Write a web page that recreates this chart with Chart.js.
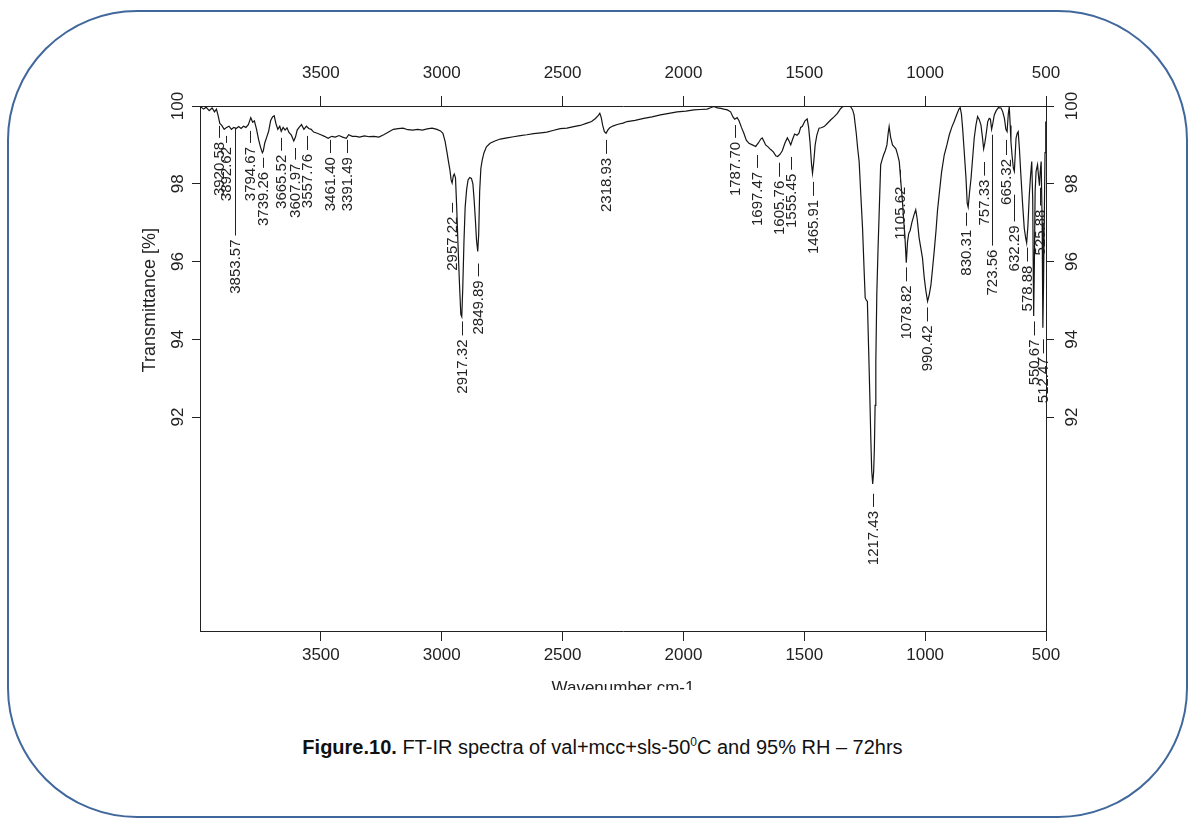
<!DOCTYPE html>
<html lang="en">
<head>
    <meta charset="UTF-8" />
    <title>FT-IR spectrum</title>
    <script src="https://cdn.jsdelivr.net/npm/chart.js"></script>
    <style>
        * {
            box-sizing: border-box;
            margin: 0; padding: 0;
        }
        body {
            background: #fff;
            width: 1191px;
            height: 818px;
            overflow: hidden;
            position: relative;
            font-family: 'Liberation Sans', Arial, sans-serif;
        }

        /* rounded frame around the figure */
        .frame {
            position: absolute;
            left: 7px; top: 10px;
            width: 1181px; height: 808px;
            border: 2px solid #41689c;
            border-radius: 130px;
        }

        /* the plot image is cut just under the axis title */
        .plot {
            position: absolute;
            left: 0; top: 0;
            width: 1191px; height: 690px;
            overflow: hidden;
        }

        .caption {
            position: absolute;
            left: 0; top: 735px;
            width: 1205px;
            text-align: center;
            font-size: 20px;
            color: #111;
        }
        .caption sup { font-size: 12px; }
    </style>
</head>
<body>

    <div class="frame"></div>

    <div class="plot">
        <canvas id="spectrum" width="1191" height="720"></canvas>
    </div>

    <div class="caption"><b>Figure.10.</b> FT-IR spectra of val+mcc+sls-50<sup>0</sup>C and 95% RH &ndash; 72hrs</div>

    <script>
        const xTicks = [3500, 3000, 2500, 2000, 1500, 1000, 500];
        const yTicks = [92, 94, 96, 98, 100];

        // spectrum (cm-1 / %T)
        const wavenumber = [
            3998, 3985, 3975, 3962, 3950, 3940, 3932, 3925, 3918, 3910,
            3900, 3890, 3880, 3870, 3860, 3850, 3840, 3830, 3820, 3810,
            3800, 3790, 3782, 3775, 3766, 3758, 3750, 3742, 3738, 3732,
            3724, 3716, 3708, 3700, 3693, 3686, 3678, 3670, 3664, 3656,
            3648, 3640, 3632, 3622, 3612, 3605, 3598, 3590, 3580, 3570,
            3560, 3550, 3540, 3530, 3515, 3500, 3485, 3470, 3455, 3440,
            3425, 3410, 3395, 3385, 3370, 3355, 3340, 3320, 3300, 3280,
            3260, 3240, 3220, 3200, 3180, 3160, 3140, 3120, 3100, 3080,
            3060, 3040, 3020, 3005, 2995, 2986, 2978, 2972, 2966, 2961,
            2957, 2952, 2948, 2943, 2938, 2933, 2927, 2921, 2917, 2913,
            2908, 2903, 2897, 2891, 2884, 2877, 2871, 2866, 2861, 2856,
            2851, 2847, 2843, 2838, 2832, 2825, 2815, 2800, 2780, 2758,
            2730, 2703, 2675, 2648, 2620, 2590, 2565, 2540, 2510, 2482,
            2454, 2427, 2399, 2380, 2364, 2352, 2346, 2340, 2334, 2327,
            2320, 2313, 2305, 2290, 2270, 2250, 2233, 2200, 2164, 2130,
            2095, 2060, 2026, 1990, 1957, 1930, 1902, 1885, 1874, 1860,
            1845, 1833, 1818, 1805, 1795, 1788, 1778, 1770, 1760, 1750,
            1740, 1729, 1715, 1701, 1690, 1680, 1674, 1666, 1660, 1650,
            1639, 1628, 1618, 1610, 1600, 1591, 1580, 1570, 1563, 1556,
            1548, 1540, 1530, 1522, 1515, 1508, 1497, 1488, 1482, 1476,
            1470, 1466, 1461, 1455, 1448, 1439, 1430, 1418, 1405, 1391,
            1377, 1363, 1350, 1342, 1325, 1308, 1300, 1294, 1285, 1279,
            1273, 1266, 1259, 1252, 1248, 1243, 1239, 1234, 1229, 1225,
            1221, 1217, 1213, 1210, 1207, 1204, 1200, 1195, 1190, 1184,
            1178, 1172, 1165, 1158, 1153, 1149, 1143, 1135, 1128, 1121,
            1114, 1107, 1100, 1094, 1088, 1084, 1078, 1073, 1068, 1062,
            1055, 1046, 1039, 1033, 1025, 1018, 1011, 1004, 997, 990,
            983, 976, 969, 962, 955, 949, 942, 932, 921, 910,
            900, 890, 880, 868, 860, 855, 850, 845, 838, 831,
            826, 822, 816, 810, 803, 797, 790, 783, 776, 769,
            763, 758, 753, 748, 741, 735, 730, 725, 720, 714,
            706, 697, 686, 679, 672, 666, 661, 656, 652, 648,
            645, 640, 635, 631, 627, 624, 619, 615, 610, 604,
            597, 590, 584, 580, 575, 569, 564, 559, 555, 551,
            548, 545, 541, 535, 531, 527, 524, 520, 516, 513,
            510, 507, 504, 501
        ];
        const transmittance = [
            99.98, 99.92, 99.97, 99.88, 99.95, 99.85, 99.92, 99.75, 99.55, 99.50,
            99.40, 99.45, 99.48, 99.40, 99.45, 99.42, 99.47, 99.42, 99.48, 99.45,
            99.52, 99.70, 99.58, 99.62, 99.40, 99.15, 98.95, 98.80, 98.85, 99.05,
            99.20, 99.35, 99.62, 99.72, 99.75, 99.55, 99.40, 99.48, 99.35, 99.45,
            99.38, 99.44, 99.32, 99.25, 99.10, 99.20, 99.38, 99.45, 99.52, 99.40,
            99.48, 99.42, 99.40, 99.33, 99.30, 99.26, 99.22, 99.17, 99.22, 99.20,
            99.24, 99.20, 99.17, 99.26, 99.22, 99.22, 99.20, 99.23, 99.21, 99.22,
            99.20, 99.26, 99.33, 99.40, 99.42, 99.43, 99.39, 99.38, 99.40, 99.38,
            99.41, 99.43, 99.40, 99.36, 99.30, 99.09, 98.80, 98.57, 98.35, 98.10,
            98.02, 98.20, 98.25, 98.15, 97.40, 96.50, 95.50, 94.64, 94.58, 95.30,
            96.50, 97.40, 97.85, 98.10, 98.16, 98.14, 98.00, 97.60, 97.10, 96.55,
            96.26, 96.70, 97.80, 98.40, 98.62, 98.80, 98.95, 99.04, 99.10, 99.15,
            99.18, 99.21, 99.24, 99.26, 99.29, 99.31, 99.33, 99.37, 99.42, 99.43,
            99.47, 99.50, 99.56, 99.60, 99.68, 99.76, 99.81, 99.70, 99.50, 99.34,
            99.30, 99.38, 99.44, 99.49, 99.53, 99.56, 99.60, 99.63, 99.68, 99.72,
            99.77, 99.81, 99.85, 99.87, 99.90, 99.91, 99.92, 99.96, 99.99, 99.95,
            99.94, 99.92, 99.90, 99.85, 99.72, 99.66, 99.70, 99.62, 99.45, 99.30,
            99.12, 99.04, 99.00, 98.96, 99.05, 99.15, 99.18, 99.08, 99.00, 98.95,
            98.88, 98.82, 98.72, 98.70, 98.76, 98.85, 99.05, 99.18, 99.10, 99.00,
            99.15, 99.28, 99.25, 99.30, 99.45, 99.48, 99.62, 99.67, 99.45, 99.05,
            98.50, 98.27, 98.55, 99.00, 99.25, 99.43, 99.44, 99.47, 99.55, 99.64,
            99.72, 99.81, 99.93, 99.98, 100.0, 99.98, 99.90, 99.77, 99.30, 98.90,
            98.57, 97.70, 96.86, 95.70, 95.07, 95.00, 94.98, 93.80, 92.59, 91.50,
            90.62, 90.28, 90.60, 91.20, 92.30, 93.44, 95.15, 96.30, 97.29, 98.49,
            98.62, 98.74, 98.85, 99.00, 99.30, 99.47, 99.20, 99.00, 98.95, 98.90,
            98.75, 98.57, 98.00, 97.55, 97.00, 96.69, 95.97, 96.50, 96.72, 96.80,
            97.00, 97.20, 97.33, 97.10, 96.61, 96.35, 96.09, 95.60, 95.25, 94.98,
            95.15, 95.40, 95.84, 96.30, 96.80, 97.30, 97.72, 98.30, 98.74, 99.00,
            99.26, 99.45, 99.60, 99.80, 99.92, 99.96, 99.80, 99.43, 98.80, 98.15,
            97.50, 97.40, 97.80, 98.15, 98.70, 99.17, 99.50, 99.73, 99.65, 99.51,
            99.20, 98.90, 99.05, 99.26, 99.60, 99.68, 99.66, 99.40, 99.55, 99.77,
            99.88, 99.96, 99.95, 99.85, 99.68, 99.40, 99.34, 99.80, 99.98, 99.50,
            99.08, 98.70, 98.40, 98.32, 98.80, 99.17, 99.30, 99.34, 98.90, 98.23,
            97.50, 96.86, 96.60, 96.48, 96.90, 97.72, 98.20, 98.57, 97.60, 94.60,
            96.00, 97.80, 98.32, 98.49, 98.20, 97.95, 98.30, 98.57, 97.00, 94.30,
            95.50, 97.20, 98.80, 99.60
        ];

        // peak picks: position, and %T where each marker line starts / ends
        const peakWn = [
            3920.58, 3892.62, 3853.57, 3794.67, 3739.26, 3665.52, 3607.97, 3557.76,
            3461.40, 3391.49, 2957.22, 2917.32, 2849.89, 2318.93, 1787.70, 1697.47,
            1605.76, 1555.45, 1465.91, 1217.43, 1105.62, 1078.82, 990.42, 830.31,
            757.33, 723.56, 665.32, 632.29, 578.88, 550.67, 525.88, 512.47
        ];
        const peakLineTop = [
            99.49, 99.23, 99.44, 99.36, 98.67, 99.18, 98.92, 99.23,
            99.13, 99.13, 97.51, 94.46, 95.95, 99.13, 99.51, 98.74,
            98.54, 98.69, 98.05, 90.03, 98.36, 95.85, 94.82, 97.26,
            98.56, 99.26, 99.13, 97.72, 96.36, 94.46, 97.90, 94.00
        ];
        const peakLineEnd = [
            99.18, 99.05, 96.67, 99.05, 98.41, 98.85, 98.62, 98.87,
            98.79, 98.79, 97.26, 94.10, 95.62, 98.77, 99.18, 98.41,
            98.18, 98.36, 97.69, 89.69, 98.03, 95.49, 94.46, 96.92,
            98.21, 96.41, 98.74, 97.03, 96.00, 94.10, 97.44, 93.64
        ];

        const FONT = "'Liberation Sans', Arial, sans-serif";
        const INK = '#222';

        // vertical peak labels under each band + the left axis title
        const peakLabels = {
            id: 'peakLabels',
            afterDatasetsDraw(chart) {
                const { ctx, scales: { x, y } } = chart;
                ctx.save();
                ctx.strokeStyle = INK;
                ctx.fillStyle = INK;
                ctx.lineWidth = 1;
                ctx.font = '15px ' + FONT;
                peakWn.forEach((wn, i) => {
                    const px = Math.round(x.getPixelForValue(wn)) + 0.5;
                    const y0 = y.getPixelForValue(peakLineTop[i]);
                    const y1 = y.getPixelForValue(peakLineEnd[i]);
                    ctx.beginPath();
                    ctx.moveTo(px, y0);
                    ctx.lineTo(px, y1);
                    ctx.stroke();
                    ctx.save();
                    ctx.translate(px, y1 + 4);
                    ctx.rotate(-Math.PI / 2);
                    ctx.textAlign = 'right';
                    ctx.textBaseline = 'middle';
                    ctx.fillText(wn.toFixed(2), 0, 0);
                    ctx.restore();
                });

                // axis title sits a bit above the middle of the axis
                ctx.save();
                ctx.font = '18px ' + FONT;
                ctx.translate(150, y.top + y.height * 0.37);
                ctx.rotate(-Math.PI / 2);
                ctx.textAlign = 'center';
                ctx.textBaseline = 'middle';
                ctx.fillText('Transmittance [%]', 0, 0);
                ctx.restore();
                ctx.restore();
            }
        };

        const tickFont = { size: 17, family: FONT };
        const gridOpts = {
            drawOnChartArea: false,
            drawTicks: true,
            tickLength: 10,
            tickColor: INK,
            tickWidth: 1
        };
        const borderOpts = { display: true, color: INK, width: 1 };

        function xAxis(position, size, pad) {
            return {
                type: 'linear',
                position: position,
                reverse: true,
                min: 500,
                max: 4000,
                afterBuildTicks: s => { s.ticks = xTicks.map(v => ({ value: v })); },
                afterFit: s => { s.height = size; },
                grid: gridOpts,
                border: borderOpts,
                ticks: {
                    color: INK, font: tickFont, padding: pad,
                    maxRotation: 0, autoSkip: false,
                    callback: v => String(v)
                }
            };
        }

        function yAxis(position, size, pad) {
            return {
                type: 'linear',
                position: position,
                min: 86.5,
                max: 100,
                afterBuildTicks: s => { s.ticks = yTicks.map(v => ({ value: v })); },
                afterFit: s => { s.width = size; },
                grid: Object.assign({}, gridOpts, { tickLength: 8 }),
                border: borderOpts,
                ticks: {
                    color: INK, font: tickFont, padding: pad,
                    minRotation: 90, maxRotation: 90,
                    crossAlign: 'center', autoSkip: false,
                    callback: v => String(v)
                }
            };
        }

        const bottom = xAxis('bottom', 89, 4);
        bottom.title = {
            display: true,
            text: 'Wavenumber cm-1',
            color: INK,
            font: { size: 17, family: FONT },
            padding: { top: 0, bottom: 21 }
        };

        const ctx = document.getElementById('spectrum').getContext('2d');

        new Chart(ctx, {
            type: 'line',
            data: {
                datasets: [{
                    data: wavenumber.map((w, i) => ({ x: w, y: transmittance[i] })),
                    borderColor: '#151515',
                    borderWidth: 1.2,
                    pointRadius: 0,
                    tension: 0,
                    xAxisID: 'x',
                    yAxisID: 'y'
                }]
            },
            options: {
                responsive: false,
                animation: false,
                layout: { padding: 0 },
                plugins: {
                    legend: { display: false },
                    tooltip: { enabled: false }
                },
                scales: {
                    x: bottom,
                    x2: xAxis('top', 106, 12),
                    y: yAxis('left', 200, 0),
                    y2: yAxis('right', 145, 4)
                }
            },
            plugins: [peakLabels]
        });
    </script>
</body>
</html>
